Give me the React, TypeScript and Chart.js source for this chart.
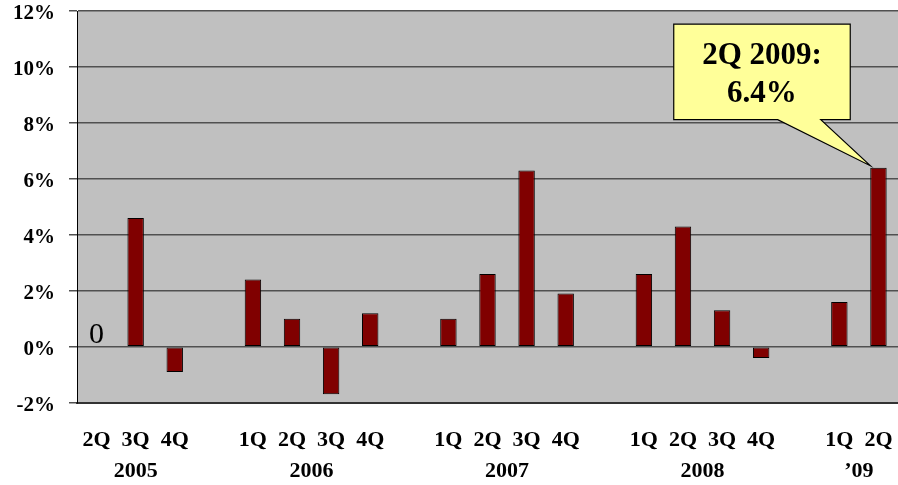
import React, { useEffect, useRef } from "react";
import { Chart, registerables } from "chart.js";

Chart.register(...registerables);

const quarterLabels = ["2Q", "3Q", "4Q", "", "1Q", "2Q", "3Q", "4Q", "", "1Q", "2Q", "3Q", "4Q", "", "1Q", "2Q", "3Q", "4Q", "", "1Q", "2Q"];
const growthValues: (number | null)[] = [0, 4.6, -0.9, null, 2.4, 1.0, -1.7, 1.2, null, 1.0, 2.6, 6.3, 1.9, null, 2.6, 4.3, 1.3, -0.4, null, 1.6, 6.4];
const yearLabels = ["2005", "2006", "2007", "2008", "\u201909"];
const yearPositions = [1, 5.5, 10.5, 15.5, 19.5];
const calloutIndex = 20;
const calloutLines = ["2Q 2009:", "6.4%"];

const FONT = "'Liberation Serif', 'Times New Roman', serif";

const zeroPad = (axis: any) => {
  axis.paddingLeft = 0;
  axis.paddingRight = 0;
  axis.paddingTop = 0;
  axis.paddingBottom = 0;
};

const decorPlugin = {
  id: "decor",
  beforeDraw(chart: any) {
    const { ctx, chartArea } = chart;
    ctx.save();
    ctx.fillStyle = "#C0C0C0";
    ctx.fillRect(chartArea.left, chartArea.top, chartArea.right - chartArea.left, chartArea.bottom - chartArea.top);
    ctx.restore();
  },
  afterDatasetsDraw(chart: any) {
    const { ctx, scales } = chart;
    const xs = scales.x;
    const ys = scales.y;
    ctx.save();
    growthValues.forEach((v, i) => {
      if (v === 0) {
        ctx.fillStyle = "#000";
        ctx.font = `30px ${FONT}`;
        ctx.textAlign = "center";
        ctx.textBaseline = "alphabetic";
        ctx.fillText("0", xs.getPixelForValue(i), ys.getPixelForValue(0) - 4);
      }
    });
    const meta = chart.getDatasetMeta(0);
    const bar = meta.data[calloutIndex] as any;
    if (bar) {
      const tipX = bar.x - bar.width / 2;
      const tipY = bar.y - 2;
      const left = tipX - 196.5;
      const right = tipX - 20;
      const top = tipY - 141.5;
      const bottom = tipY - 46;
      const b1 = tipX - 92.5;
      const b2 = tipX - 49.5;
      ctx.beginPath();
      ctx.moveTo(left, top);
      ctx.lineTo(right, top);
      ctx.lineTo(right, bottom);
      ctx.lineTo(b2, bottom);
      ctx.lineTo(tipX, tipY);
      ctx.lineTo(b1, bottom);
      ctx.lineTo(left, bottom);
      ctx.closePath();
      ctx.fillStyle = "#FFFF99";
      ctx.fill();
      ctx.lineWidth = 1.2;
      ctx.strokeStyle = "#000";
      ctx.stroke();
      ctx.fillStyle = "#000";
      ctx.font = `bold 31px ${FONT}`;
      ctx.textAlign = "center";
      ctx.textBaseline = "middle";
      const cx = (left + right) / 2;
      ctx.fillText(calloutLines[0], cx, top + 32);
      ctx.fillText(calloutLines[1], cx, top + 70);
    }
    ctx.restore();
  },
};

export default function App() {
  const ref = useRef<HTMLCanvasElement | null>(null);
  useEffect(() => {
    if (!ref.current) return;
    const chart = new Chart(ref.current, {
      type: "bar",
      data: {
        labels: quarterLabels,
        datasets: [
          {
            data: growthValues as any,
            backgroundColor: "#800000",
            borderColor: "#000",
            borderWidth: 1,
            borderSkipped: false,
            barPercentage: 0.42,
            categoryPercentage: 1,
            xAxisID: "x",
          },
        ],
      },
      options: {
        responsive: false,
        animation: false,
        events: [],
        layout: { padding: { top: 11, right: 0, left: 0, bottom: 0 } },
        plugins: { legend: { display: false }, tooltip: { enabled: false } },
        scales: {
          x: {
            type: "category",
            position: "bottom",
            weight: 0,
            offset: true,
            grid: { display: false },
            border: { display: true, color: "#333", width: 2 },
            ticks: {
              color: "#000",
              font: { family: FONT, size: 22, weight: "bold", lineHeight: 1 },
              padding: 18.5,
              maxRotation: 0,
              autoSkip: false,
            },
            afterFit(axis: any) {
              axis.height = 49;
              zeroPad(axis);
            },
          },
          x2: {
            type: "linear",
            position: "bottom",
            weight: 1,
            min: -0.5,
            max: 20.5,
            offset: false,
            grid: { display: false, drawTicks: false },
            border: { display: false },
            afterBuildTicks(axis: any) {
              axis.ticks = yearPositions.map((v) => ({ value: v }));
            },
            ticks: {
              color: "#000",
              font: { family: FONT, size: 22, weight: "bold", lineHeight: 1 },
              padding: 8.5,
              maxRotation: 0,
              autoSkip: false,
              callback: (v: any) => {
                const idx = yearPositions.indexOf(Number(v));
                return idx >= 0 ? yearLabels[idx] : "";
              },
            },
            afterFit(axis: any) {
              axis.height = 33.3;
              zeroPad(axis);
            },
          },
          y: {
            min: -2,
            max: 12,
            grid: { color: "#505050", lineWidth: 1.5, tickLength: 8, tickColor: "#505050" },
            border: { display: true, color: "#000", width: 1 },
            ticks: {
              stepSize: 2,
              color: "#000",
              padding: 14,
              labelOffset: 3,
              font: { family: FONT, size: 21, weight: "bold", lineHeight: 1 },
              callback: (v: any) => `${v}%`,
            },
            afterFit(axis: any) {
              axis.width = 77;
              zeroPad(axis);
            },
          },
        },
      },
      plugins: [decorPlugin],
    });
    return () => chart.destroy();
  }, []);
  return (
    <div style={{ position: "fixed", left: 0, top: 0, width: 898, height: 485, background: "#fff" }}>
      <canvas ref={ref} width={898} height={485} style={{ display: "block" }} />
    </div>
  );
}
